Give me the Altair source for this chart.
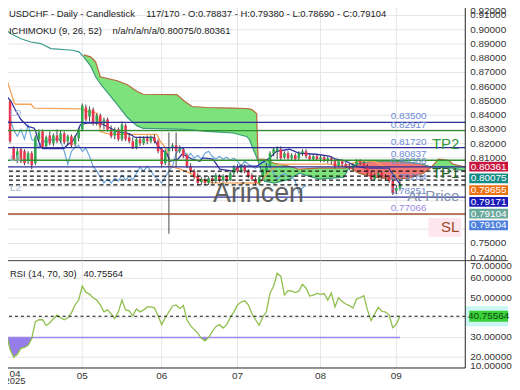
import altair as alt
import pandas as pd

# ---------------- data ----------------
opens = [0.8586, 0.8531, 0.8496, 0.8168, 0.8091, 0.8161, 0.8147, 0.8077, 0.8133, 0.8063,
         0.8231, 0.8286, 0.8182, 0.8258, 0.8203, 0.8258, 0.8217, 0.8272, 0.8217, 0.8252,
         0.8196, 0.8238, 0.8300, 0.8454, 0.8391, 0.8440, 0.8356, 0.8398, 0.8342, 0.8370,
         0.8300, 0.8258, 0.8300, 0.8231, 0.8328, 0.8245, 0.8217, 0.8175, 0.8231, 0.8203,
         0.8238, 0.8217, 0.8245, 0.8217, 0.8161, 0.8063, 0.8147, 0.8175, 0.8189, 0.8147,
         0.8161, 0.8119, 0.8042, 0.8007, 0.7972, 0.7931, 0.7951, 0.7924, 0.7958, 0.7938,
         0.7972, 0.7945, 0.7972, 0.7945, 0.7993, 0.8035, 0.8007, 0.8042, 0.8007, 0.7979,
         0.7951, 0.7924, 0.7965, 0.8007, 0.8042, 0.8133, 0.8147, 0.8161, 0.8105, 0.8133,
         0.8098, 0.8119, 0.8098, 0.8133, 0.8147, 0.8112, 0.8091, 0.8112, 0.8091, 0.8105,
         0.8084, 0.8098, 0.8077, 0.8042, 0.8077, 0.8056, 0.8042, 0.8028, 0.8049, 0.8077,
         0.8063, 0.8042, 0.7993, 0.7951, 0.7979, 0.7993, 0.7972, 0.7965, 0.7938, 0.7868,
         0.78837]
highs = [0.8600, 0.8579, 0.8510, 0.8182, 0.8168, 0.8175, 0.8161, 0.8147, 0.8147, 0.8258,
         0.8300, 0.8300, 0.8258, 0.8286, 0.8272, 0.8300, 0.8293, 0.8286, 0.8265, 0.8265,
         0.8258, 0.8314, 0.8482, 0.8475, 0.8461, 0.8454, 0.8412, 0.8412, 0.8384, 0.8384,
         0.8328, 0.8314, 0.8314, 0.8356, 0.8342, 0.8272, 0.8245, 0.8245, 0.8252, 0.8252,
         0.8258, 0.8258, 0.8265, 0.8231, 0.8175, 0.8161, 0.8279, 0.8203, 0.8279, 0.8189,
         0.8175, 0.8133, 0.8063, 0.8021, 0.7993, 0.7965, 0.7965, 0.7972, 0.7972, 0.7993,
         0.7986, 0.7986, 0.7979, 0.8007, 0.8049, 0.8056, 0.8056, 0.8056, 0.8021, 0.7993,
         0.7965, 0.7979, 0.8021, 0.8063, 0.8147, 0.8175, 0.8182, 0.8182, 0.8147, 0.8147,
         0.8133, 0.8133, 0.8147, 0.8161, 0.8161, 0.8126, 0.8126, 0.8126, 0.8119, 0.8119,
         0.8112, 0.8112, 0.8091, 0.8091, 0.8091, 0.8070, 0.8056, 0.8063, 0.8091, 0.8091,
         0.8077, 0.8056, 0.8007, 0.7993, 0.8007, 0.8007, 0.7986, 0.7979, 0.7951, 0.7910,
         0.79380]
lows = [0.8454, 0.8426, 0.8203, 0.8077, 0.8063, 0.8063, 0.8049, 0.8056, 0.8021, 0.8049,
        0.8217, 0.8161, 0.8168, 0.8189, 0.8182, 0.8203, 0.8203, 0.8196, 0.8189, 0.8175,
        0.8182, 0.8217, 0.8286, 0.8356, 0.8356, 0.8328, 0.8328, 0.8314, 0.8300, 0.8286,
        0.8238, 0.8231, 0.8217, 0.8217, 0.8217, 0.8203, 0.8161, 0.8161, 0.8182, 0.8189,
        0.8196, 0.8203, 0.8203, 0.8133, 0.8035, 0.8049, 0.7568, 0.8147, 0.8035, 0.8133,
        0.8098, 0.8028, 0.7993, 0.7951, 0.7910, 0.7910, 0.7910, 0.7910, 0.7917, 0.7924,
        0.7931, 0.7931, 0.7931, 0.7938, 0.7979, 0.7993, 0.7993, 0.7993, 0.7958, 0.7938,
        0.7910, 0.7910, 0.7951, 0.7993, 0.8035, 0.8112, 0.8091, 0.8084, 0.8091, 0.8084,
        0.8084, 0.8077, 0.8084, 0.8112, 0.8098, 0.8077, 0.8077, 0.8077, 0.8070, 0.8070,
        0.8063, 0.8056, 0.8028, 0.8035, 0.8042, 0.8028, 0.8014, 0.8014, 0.8035, 0.8049,
        0.8028, 0.7979, 0.7938, 0.7938, 0.7958, 0.7951, 0.7938, 0.7924, 0.7840, 0.7847,
        0.78690]
closes = [0.8468, 0.8440, 0.8217, 0.8091, 0.8147, 0.8077, 0.8063, 0.8133, 0.8049, 0.8245,
          0.8279, 0.8175, 0.8245, 0.8203, 0.8258, 0.8217, 0.8272, 0.8210, 0.8252, 0.8189,
          0.8245, 0.8300, 0.8468, 0.8370, 0.8440, 0.8342, 0.8398, 0.8328, 0.8370, 0.8300,
          0.8252, 0.8300, 0.8231, 0.8335, 0.8231, 0.8217, 0.8168, 0.8231, 0.8203, 0.8238,
          0.8217, 0.8245, 0.8217, 0.8147, 0.8056, 0.8147, 0.8175, 0.8189, 0.8147, 0.8168,
          0.8112, 0.8042, 0.8007, 0.7965, 0.7924, 0.7951, 0.7924, 0.7958, 0.7938, 0.7979,
          0.7945, 0.7972, 0.7945, 0.7993, 0.8035, 0.8007, 0.8042, 0.8007, 0.7972, 0.7951,
          0.7924, 0.7965, 0.8007, 0.8042, 0.8133, 0.8161, 0.8168, 0.8098, 0.8133, 0.8098,
          0.8119, 0.8091, 0.8133, 0.8147, 0.8112, 0.8091, 0.8112, 0.8091, 0.8105, 0.8084,
          0.8098, 0.8077, 0.8042, 0.8077, 0.8056, 0.8042, 0.8028, 0.8049, 0.8077, 0.8063,
          0.8042, 0.7993, 0.7951, 0.7979, 0.7993, 0.7972, 0.7965, 0.7938, 0.7854, 0.7889,
          0.79104]

rsi_values = [20, 32, 24, 20, 21.5, 24.5, 25, 26, 29.5, 38,
              39, 39, 36, 37.5, 39.5, 41.3, 40, 39, 40, 42.5,
              46.5, 49, 56, 53, 52, 50.2, 49, 46.5, 43, 44,
              42, 39.6, 43, 49, 44, 43.5, 41, 44.5, 43, 44,
              45.5, 45.5, 45, 41, 36.5, 40, 43, 46, 46.5, 44.6,
              46.3, 39, 36, 34, 32.2, 29.6, 28.3, 30, 33, 35.5,
              36.5, 34.8, 36.5, 40, 43, 46.5, 48, 48.6, 46.6, 42,
              39, 36.2, 40.4, 43, 52.5, 56, 62.6, 61, 51.5, 53.8,
              53.6, 52.8, 53.5, 57, 55, 51, 51.5, 52.4, 51.9, 52.3,
              49, 52.5, 45.5, 50.2, 48.2, 47, 46.2, 44.9, 49.5, 50.3,
              51.2, 44, 38.5, 42, 45.3, 43.3, 42.9, 41.5, 35, 36.7, 40.76]

tenkan_k = [-0.5, 2.3, 3.2, 5.0, 6.9, 8.7, 9.1, 9.6, 10.5, 11.4, 16.9, 17.9, 19.3, 20.6,
            21.5, 23.4, 27.0, 28.9, 30.7, 32.1, 34.4, 35.3, 36.7, 41.6, 42.7, 43.6, 45.5,
            46.3, 48.5, 49.6, 51.0, 52.4, 54.6, 55.4, 58.2, 60.1, 63.7, 65.6, 69.2, 70.3,
            73.8, 75.8, 79.4, 82.1, 86.8, 90.4, 92.3, 95.0, 97.8, 100.6, 106.9, 108.8, 110.0]
tenkan_v = [0.8579, 0.8496, 0.8449, 0.8370, 0.8321, 0.8309, 0.8286, 0.8240, 0.8175, 0.8166,
            0.8166, 0.8193, 0.8217, 0.8275, 0.8335, 0.8344, 0.8344, 0.8321, 0.8298, 0.8281,
            0.8275, 0.8265, 0.8244, 0.8244, 0.8196, 0.8168, 0.8126, 0.8077, 0.8091, 0.8126,
            0.8112, 0.8091, 0.8077, 0.8100, 0.8091, 0.8021, 0.8007, 0.8042, 0.8042, 0.8042,
            0.8098, 0.8147, 0.8161, 0.8133, 0.8126, 0.8112, 0.8091, 0.8077, 0.8042, 0.8028,
            0.8028, 0.7958, 0.7917]
kijun_k = [-0.5, 0.4, 3.2, 3.6, 7.8, 8.7, 21.5, 23.4, 26.1, 27.0, 29.8, 42.7, 43.6, 45.4,
           46.3, 49.1, 51.8, 54.6, 58.2, 71.1, 73.8, 76.6, 90.4, 94.5, 98.6, 102.8, 105.5, 110.0]
kijun_v = [0.8705, 0.8705, 0.8484, 0.8477, 0.8477, 0.8449, 0.8445, 0.8426, 0.8414, 0.8286,
           0.8265, 0.8265, 0.8217, 0.8161, 0.8042, 0.8021, 0.7993, 0.7951, 0.7926, 0.7924,
           0.8007, 0.8056, 0.8056, 0.8042, 0.8077, 0.8077, 0.8042, 0.7965]
lead_k = [-0.5, 0.4, 2.3, 5.0, 7.8, 10.5, 13.3, 19.3, 21.1, 22.4]
lead_v = [0.9019, 0.9007, 0.8972, 0.8937, 0.8914, 0.8903, 0.8868, 0.8856, 0.8845, 0.8810]
cloud_k = [22.4, 24.3, 25.7, 27.0, 31.7, 34.5, 37.2, 38.9, 48.2, 50.4, 52.4, 56.5, 63.7, 67.5,
           68.3, 69.2, 70.3, 70.7, 72.5, 75.2, 79.4, 82.1, 87.6, 94.5, 95.9, 98.6, 102.8,
           108.3, 112.4, 116.5, 118.7, 120.7, 123.4, 124.8, 128.1]
span_b = [0.8824, 0.8810, 0.8775, 0.8670, 0.8642, 0.8614, 0.8566, 0.8547, 0.8545, 0.8496,
          0.8461, 0.8454, 0.8450, 0.8447, 0.8445, 0.8436, 0.8412, 0.8091, 0.8091, 0.8063,
          0.8042, 0.8021, 0.8028, 0.8028, 0.8035, 0.7993, 0.7965, 0.7951, 0.7958, 0.7993,
          0.8035, 0.8091, 0.8084, 0.8056, 0.8036]
span_a = [0.8810, 0.8747, 0.8670, 0.8621, 0.8475, 0.8384, 0.8325, 0.8307, 0.8302, 0.8300,
          0.8297, 0.8286, 0.8275, 0.8251, 0.8230, 0.8170, 0.8105, 0.8077, 0.7937, 0.7924,
          0.7951, 0.7993, 0.7951, 0.7965, 0.8035, 0.8063, 0.8077, 0.8077, 0.8070, 0.8056,
          0.8035, 0.8035, 0.8028, 0.8028, 0.8008]

level_values = [0.83500, 0.82917, 0.81720, 0.80837, 0.80366, 0.78251, 0.77066]
level_kinds = ["blue", "green", "blue", "green", "blue", "blue", "sl"]
label_values = [0.83500, 0.82917, 0.81720, 0.80837, 0.80366, 0.79264, 0.78251, 0.77066]
dashed_values = [0.80075, 0.79724, 0.79440, 0.79104]
trade_names = ["TP2", "TP1", "At Price", "SL"]
trade_values = [0.82917, 0.80837, 0.79264, 0.77066]
tag_texts = ["0.80361", "0.80075", "0.79655", "0.79171", "0.79104", "0.79104"]
month_ticks = [22, 44, 65, 88, 109]
month_labels = ["05", "06", "07", "08", "09"]
first_month = ["04", "2025"]
price_ticks = [0.74, 0.75, 0.76, 0.77, 0.78, 0.79, 0.80, 0.81, 0.82, 0.83, 0.84, 0.85,
               0.86, 0.87, 0.88, 0.89, 0.90, 0.91]
price_labels_shown = [0.74, 0.75, 0.81, 0.82, 0.83, 0.84, 0.85, 0.86, 0.87, 0.88, 0.89,
                      0.90, 0.91]
price_top_label = "0.92000"
rsi_ticks = [20, 30, 40, 50, 60]
rsi_labels_shown = [20, 30, 50, 60]
rsi_edge_labels = ["70.00000", "10.00000"]
rsi_last = 40.75564
rsi_level = 30
chikou_shift = 26
header1 = "USDCHF - Daily - Candlestick"
header2 = "117/170 - O:0.78837 - H:0.79380 - L:0.78690 - C:0.79104"
header3 = "ICHIMOKU (9, 26, 52)"
header4 = "n/a/n/a/n/a/0.80075/0.80361"
rsi_head = "RSI (14, 70, 30)"

# ---------------- styling ----------------
FONT = "Liberation Sans"
GRID = "#e6e6e6"
GREEN_C, RED_C = "#30a850", "#e6374e"
CLOUD_G, CLOUD_R = "#7de27c", "#f27777"
LEVEL_COLORS = {"blue": "#2e2e98", "green": "#2f8f2f", "sl": "#a4502e"}
TRADE_COLORS = {"TP2": "#2f9a3f", "TP1": "#1f6b25", "At Price": "#8393ad", "SL": "#9c4a28"}
TAG_COLORS = ["#c8153f", "#178c86", "#ec7014", "#1b1bb8", "#6aa99c", "#4d7fdc"]

W, HM, HR = 467, 260, 108
xsc = alt.Scale(domain=[-0.5, 128.1], nice=False, zero=False)
ysc = alt.Scale(domain=[0.73791, 0.91935], nice=False, zero=False)
rsc = alt.Scale(domain=[14.5, 69.0], nice=False, zero=False)
one = pd.DataFrame({"a": [0]})


def X(f="k:Q"):
    return alt.X(f, scale=xsc, axis=None)


def Y(f):
    return alt.Y(f, scale=ysc, axis=None)


def RY(f):
    return alt.Y(f, scale=rsc, axis=None)


def txt(s, x, y, size=9.5, color="#222", align="left"):
    return alt.Chart(one).mark_text(text=s, fontSize=size, font=FONT, color=color,
                                    align=align, baseline="middle").encode(
        x=alt.value(x), y=alt.value(y))


def vline(x, y1, y2, color="#222"):
    return alt.Chart(one).mark_rule(color=color, strokeWidth=1).encode(
        x=alt.value(x), y=alt.value(y1), y2=alt.value(y2))


def hline(y, x1, x2, color="#222"):
    return alt.Chart(one).mark_rule(color=color, strokeWidth=1).encode(
        x=alt.value(x1), x2=alt.value(x2), y=alt.value(y))


months_df = pd.DataFrame({"k": month_ticks, "lab": month_labels})

# ---------------- main panel ----------------
candles = pd.DataFrame({"k": list(range(len(opens))), "o": opens, "h": highs,
                        "l": lows, "c": closes})
candles["col"] = [GREEN_C if c >= o else RED_C for o, c in zip(opens, closes)]

segs = [[]]
for k, a, b in zip(cloud_k, span_a, span_b):
    segs[-1].append((k, a, b))
    if a == b and len(segs[-1]) > 1:
        segs.append([(k, a, b)])
rows = []
for si, s in enumerate(segs):
    up = any(b > a for _, a, b in s)
    for k, a, b in s:
        rows.append({"k": k, "a": a, "b": b, "seg": si, "fill": CLOUD_G if up else CLOUD_R})
cloud_df = pd.DataFrame(rows)

grid_h = alt.Chart(pd.DataFrame({"v": price_ticks})).mark_rule(
    color=GRID, strokeWidth=1).encode(y=Y("v:Q"))
grid_v = alt.Chart(months_df).mark_rule(color=GRID, strokeWidth=1).encode(x=X("k:Q"))
y_labels = alt.Chart(pd.DataFrame({"v": price_labels_shown})).mark_text(
    align="left", baseline="middle", fontSize=10, font=FONT, color="#333").encode(
    x=alt.value(472), y=Y("v:Q"), text=alt.Text("v:Q", format=".5f"))

cloud = alt.Chart(cloud_df).mark_area(clip=True).encode(
    x=X(), y=Y("a:Q"), y2="b:Q", color=alt.Color("fill:N", scale=None), detail="seg:N")


def line(ks, vs, color, width=1.3):
    return alt.Chart(pd.DataFrame({"k": ks, "v": vs})).mark_line(
        color=color, strokeWidth=width, clip=True).encode(x=X(), y=Y("v:Q"))


spanA_line = alt.Chart(cloud_df).mark_line(color="#3b9b7a", strokeWidth=1.2, clip=True).encode(
    x=X(), y=Y("a:Q"), detail="seg:N")
spanB_line = alt.Chart(cloud_df).mark_line(color="#b8683a", strokeWidth=1.2, clip=True).encode(
    x=X(), y=Y("b:Q"), detail="seg:N")
lead = line(lead_k, lead_v, "#3b9b8c", 1.2)
chikou = alt.Chart(candles).transform_calculate(kc=f"datum.k - {chikou_shift}").transform_filter(
    "datum.kc >= -0.5").mark_line(color="#6ea8dc", strokeWidth=1.2, clip=True).encode(
    x=X("kc:Q"), y=Y("c:Q"))
kijun = line(kijun_k, kijun_v, "#f3a35c", 1.3)
tenkan = line(tenkan_k, tenkan_v, "#3434a6", 1.3)

wicks = alt.Chart(candles).mark_rule(strokeWidth=0.9, color="#333").encode(
    x=X(), y=Y("l:Q"), y2="h:Q")
bodies = alt.Chart(candles).mark_rule(strokeWidth=2.6, strokeCap="butt").encode(
    x=X(), y=Y("o:Q"), y2="c:Q", color=alt.Color("col:N", scale=None))

lv = pd.DataFrame({"v": level_values, "kind": level_kinds})
lv["col"] = lv["kind"].map(LEVEL_COLORS)
levels = alt.Chart(lv).mark_rule(strokeWidth=1.3).encode(
    y=Y("v:Q"), color=alt.Color("col:N", scale=None))
dashed = alt.Chart(pd.DataFrame({"v": dashed_values})).mark_rule(
    strokeWidth=1.2, strokeDash=[4, 3], color="#111").encode(y=Y("v:Q"))

lab = pd.DataFrame({"v": label_values})
lab["col"] = ["#9d8ce0" if v < 0.775 else "#6d8ad4" for v in label_values]
level_labels = alt.Chart(lab).mark_text(align="left", baseline="middle", dy=-6,
                                         fontSize=10, font=FONT).encode(
    x=alt.value(392), y=Y("v:Q"), text=alt.Text("v:Q", format=".5f"),
    color=alt.Color("col:N", scale=None))

sl_box = alt.Chart(one).mark_rect(color="#fde6ee").encode(
    x=alt.value(430), x2=alt.value(463), y=alt.value(217), y2=alt.value(236))
tr = pd.DataFrame({"name": trade_names, "v": trade_values})
tr["col"] = tr["name"].map(TRADE_COLORS)
trade = alt.Chart(tr).mark_text(align="right", baseline="middle", dy=13, fontSize=15,
                                font=FONT).encode(
    x=alt.value(461), y=Y("v:Q"), text="name:N", color=alt.Color("col:N", scale=None))

watermark = alt.Chart(one).mark_text(text="Arincen", fontSize=27, font=FONT, color="#505050",
                                     opacity=0.9, align="center", baseline="middle").encode(
    x=alt.value(259), y=alt.value(193))

heads = [txt(header1, 8, 12), txt(header2, 146, 12), txt(header3, 8, 29), txt(header4, 112, 29)]
side = [txt("L0", 9, 112, 10, "#a9bcd8"), txt("L8", 9, 157, 10, "#a9bcd8"),
        txt("L2", 9, 187, 10, "#a9bcd8")]
top_label = txt(price_top_label, 472, 8.5, 10, "#333")

tags = []
for i, (t, c) in enumerate(zip(tag_texts, TAG_COLORS)):
    yc = 165.5 + 11.8 * i
    tags.append(alt.Chart(one).mark_rect(color=c).encode(
        x=alt.value(471), x2=alt.value(510), y=alt.value(yc - 4.9), y2=alt.value(yc + 4.9)))
    tags.append(txt(t, 490.5, yc, 10, "#ffffff", "center"))

main = alt.layer(grid_h, grid_v, cloud, spanA_line, spanB_line, lead, chikou, kijun, tenkan,
                 wicks, bodies, levels, dashed, level_labels, sl_box, trade, watermark,
                 *heads, *side, y_labels, top_label, *tags,
                 vline(W, 0, HM), hline(HM, 0, 510, "#444")).properties(width=W, height=HM)

# ---------------- RSI panel ----------------
rsi_df = pd.DataFrame({"k": list(range(len(rsi_values))), "r": rsi_values})

r_grid_h = alt.Chart(pd.DataFrame({"v": rsi_ticks})).mark_rule(
    color=GRID, strokeWidth=1).encode(y=RY("v:Q"))
r_grid_v = alt.Chart(months_df).mark_rule(color=GRID, strokeWidth=1).encode(x=X("k:Q"))
r_ylab = alt.Chart(pd.DataFrame({"v": rsi_labels_shown})).mark_text(
    align="left", baseline="middle", fontSize=10, font=FONT, color="#333").encode(
    x=alt.value(472), y=RY("v:Q"), text=alt.Text("v:Q", format=".5f"))
r_xlab = alt.Chart(months_df).mark_text(align="center", baseline="middle", fontSize=10,
                                        font=FONT, color="#333").encode(
    x=X("k:Q"), y=alt.value(116), text="lab:N")

r_area = alt.Chart(rsi_df).transform_calculate(lo=f"min(datum.r, {rsi_level})").mark_area(
    color="#8c6fe8", opacity=0.9).encode(x=X(), y=RY("lo:Q"), y2=alt.Y2(datum=rsi_level))
r_level = alt.Chart(one).mark_rule(color="#9f88ee", strokeWidth=1.5).encode(
    x=alt.X(datum=0, scale=xsc, axis=None), x2=alt.X2(datum=len(rsi_values) - 1),
    y=alt.Y(datum=rsi_level, scale=rsc, axis=None))
r_line = alt.Chart(rsi_df).mark_line(color="#8fbf4c", strokeWidth=1.3).encode(
    x=X(), y=RY("r:Q"))
r_dash = alt.Chart(one).mark_rule(color="#111", strokeWidth=1.1, strokeDash=[3, 3]).encode(
    y=alt.Y(datum=rsi_last, scale=rsc, axis=None))
r_glow = alt.Chart(one).mark_rect(color="#c8f7f3").encode(
    x=alt.value(467.5), x2=alt.value(510), y=alt.Y(datum=45.8, scale=rsc, axis=None),
    y2=alt.Y2(datum=35.7))
r_tagbox = alt.Chart(one).mark_rect(color="#3ad13a").encode(
    x=alt.value(471), x2=alt.value(510), y=alt.Y(datum=43.5, scale=rsc, axis=None),
    y2=alt.Y2(datum=38.0))
r_tagtxt = alt.Chart(one).mark_text(text=f"{rsi_last:.5f}", fontSize=10, font=FONT,
                                    color="#124812", align="center", baseline="middle").encode(
    x=alt.value(490.5), y=alt.Y(datum=rsi_last, scale=rsc, axis=None))
r_heads = [txt(rsi_head, 9, 13), txt(f"{rsi_last:.5f}", 83, 13)]
r_edges = [txt(rsi_edge_labels[0], 472, 5, 10, "#333"),
           txt(rsi_edge_labels[1], 472, 106, 10, "#333")]
r_first = [txt(first_month[0], 14, 114.5, 10, "#333", "center"),
           txt(first_month[1], 14, 121.5, 9.5, "#333", "center")]

rsi = alt.layer(r_grid_h, r_grid_v, r_area, r_level, r_line, r_dash, r_ylab, *r_edges,
                r_glow, r_tagbox, r_tagtxt, r_xlab, *r_heads, *r_first,
                vline(W, 0, HR), hline(HR, 0, W)).properties(width=W, height=HR)

chart = alt.vconcat(main, rsi, spacing=0, bounds="flush").properties(
    padding={"left": -8, "top": -8, "right": 0, "bottom": 4}
).configure_view(stroke=None)

chart.save("out.html", embed_options={"renderer": "svg", "actions": False})
